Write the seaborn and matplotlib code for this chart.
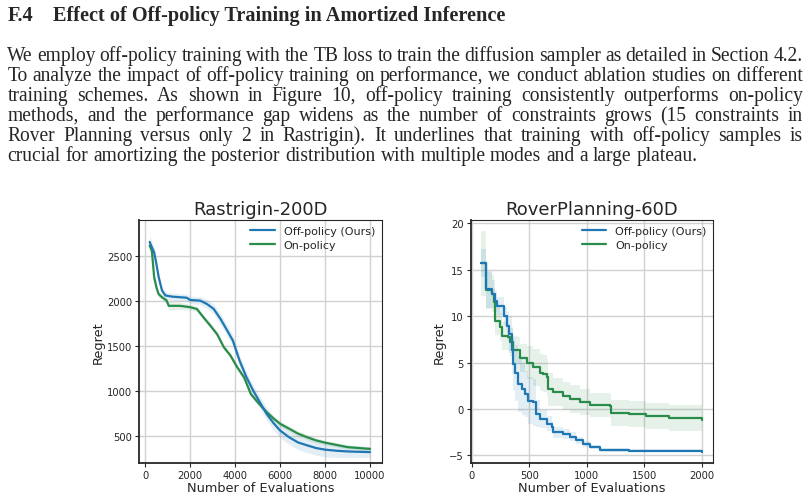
import matplotlib
matplotlib.use("Agg")
import matplotlib.pyplot as plt
import numpy as np
import seaborn as sns

# ---- text of the page ----
heading_num = "F.4"
heading_txt = "Effect of Off-policy Training in Amortized Inference"
body_lines = [
    "We employ off-policy training with the TB loss to train the diffusion sampler as detailed in Section 4.2.",
    "To analyze the impact of off-policy training on performance, we conduct ablation studies on different",
    "training schemes.  As shown in Figure 10, off-policy training consistently outperforms on-policy",
    "methods, and the performance gap widens as the number of constraints grows (15 constraints in",
    "Rover Planning versus only 2 in Rastrigin).  It underlines that training with off-policy samples is",
    "crucial for amortizing the posterior distribution with multiple modes and a large plateau.",
]

# ---- Rastrigin-200D ----
ras_off_x = [200, 300, 400, 500, 600, 750, 900, 1200, 1850, 2000, 2450, 2750, 3050, 3350, 3650, 3900,
             4200, 4500, 4800, 5100, 5400, 5700, 6000, 6400, 6800, 7200, 7600, 8000, 8500, 9000, 9500, 10000]
ras_off_y = [2660, 2600, 2545, 2415, 2270, 2120, 2065, 2052, 2040, 2015, 2008, 1970, 1915, 1805, 1675, 1565,
             1340, 1160, 1010, 880, 750, 650, 565, 490, 432, 400, 370, 352, 340, 332, 328, 325]
ras_off_sd = [70, 60, 50, 50, 50, 40, 40, 40, 40, 40, 45, 50, 55, 60, 60, 60,
              60, 60, 60, 65, 70, 75, 80, 80, 80, 80, 80, 80, 75, 70, 65, 60]

ras_on_x = [200, 300, 400, 500, 600, 750, 950, 1050, 1550, 2000, 2300, 2600, 2900, 3200, 3500, 3800,
            4100, 4400, 4700, 5000, 5400, 5700, 6000, 6400, 6800, 7200, 7600, 8000, 8500, 9000, 9500, 10000]
ras_on_y = [2620, 2560, 2270, 2155, 2080, 2045, 2010, 1950, 1950, 1935, 1915, 1820, 1730, 1635, 1490, 1395,
            1265, 1155, 970, 880, 770, 700, 640, 585, 530, 490, 455, 430, 405, 380, 370, 360]
ras_on_sd = [30, 30, 40, 40, 35, 30, 30, 50, 40, 30, 30, 30, 30, 30, 30, 30,
             30, 30, 30, 30, 30, 30, 30, 30, 30, 30, 30, 25, 25, 25, 25, 25]

# ---- RoverPlanning-60D ----
rov_off_x = [80, 124, 173, 202, 216, 280, 303, 326, 346, 361, 375, 404, 433, 462, 491, 534, 557, 592,
             650, 693, 707, 794, 851, 909, 967, 1025, 1111, 1371, 2000]
rov_off_y = [15.7, 12.9, 12.4, 11.6, 11.1, 10.0, 8.95, 8.05, 6.3, 4.8, 3.9, 2.7, 2.1, 1.6, 0.9, 0.7, -0.5, -1.1,
             -1.6, -2.0, -2.5, -2.7, -3.0, -3.4, -3.8, -4.1, -4.4, -4.5, -4.6]
rov_off_sd = [1.5, 2.0, 1.5, 1.2, 1.0, 1.0, 1.5, 2.0, 2.5, 2.8, 3.0, 3.0, 2.8, 2.5, 2.5, 2.5, 1.5, 1.0,
              0.8, 0.7, 0.6, 0.5, 0.5, 0.4, 0.3, 0.25, 0.2, 0.15, 0.1]

rov_on_x = [80, 124, 173, 195, 205, 245, 259, 317, 332, 361, 404, 418, 476, 534, 592, 620, 650, 664,
            707, 794, 851, 938, 1025, 1198, 1212, 1371, 1515, 1717, 2000]
rov_on_y = [15.7, 12.8, 12.4, 11.5, 9.5, 8.8, 7.9, 7.7, 7.2, 6.4, 6.3, 5.5, 5.0, 4.5, 3.9, 3.8, 3.4, 2.1,
            1.8, 1.4, 1.1, 0.7, 0.4, 0.3, -0.4, -0.6, -0.8, -1.0, -1.15]
rov_on_sd = [3.5, 2.0, 2.0, 1.5, 1.5, 1.5, 1.5, 1.5, 1.5, 1.5, 1.5, 1.5, 1.8, 2.0, 2.0, 2.0, 2.0, 1.8,
             1.5, 1.5, 1.5, 1.4, 1.3, 1.3, 1.4, 1.4, 1.4, 1.4, 1.4]

BLUE = "#1f77b4"
GREEN = "#2a8c4a"

sns.set_theme(style="whitegrid", rc={
    "axes.edgecolor": ".15",
    "grid.color": ".82",
    "xtick.bottom": True,
    "ytick.left": True,
    "xtick.color": ".15",
    "ytick.color": ".15",
})
plt.rcParams["font.family"] = ["DejaVu Sans"]

W, H = 808, 502
fig = plt.figure(figsize=(W / 100, H / 100), dpi=100)


def draw(ax, x_off, y_off, sd_off, x_on, y_on, sd_on, title, steps):
    ds = "steps-post" if steps else "default"
    st = "post" if steps else None
    y_off, sd_off = np.array(y_off), np.array(sd_off)
    y_on, sd_on = np.array(y_on), np.array(sd_on)
    ax.fill_between(x_on, y_on - sd_on, y_on + sd_on, color=GREEN, alpha=0.12, lw=0, step=st)
    ax.fill_between(x_off, y_off - sd_off, y_off + sd_off, color=BLUE, alpha=0.12, lw=0, step=st)
    sns.lineplot(x=x_on, y=y_on, ax=ax, color=GREEN, lw=1.6, drawstyle=ds, label="On-policy", zorder=3)
    sns.lineplot(x=x_off, y=y_off, ax=ax, color=BLUE, lw=1.6, drawstyle=ds, label="Off-policy (Ours)", zorder=4)
    h, l = ax.get_legend_handles_labels()
    ax.legend(h[::-1], l[::-1], loc="upper right", frameon=False, fontsize=8,
              handlelength=2.2, borderaxespad=0.2, labelspacing=0.35)
    ax.set_title(title, fontsize=13, pad=4)
    ax.set_xlabel("Number of Evaluations", fontsize=9.3, labelpad=1)
    ax.set_ylabel("Regret", fontsize=9.3, labelpad=2)
    ax.tick_params(labelsize=7.2, length=3, width=0.8, pad=2)
    for s in ["left", "bottom"]:
        ax.spines[s].set_linewidth(1.3)
    for s in ["top", "right"]:
        ax.spines[s].set_linewidth(0.8)


ax1 = fig.add_axes([139.3 / W, 38.3 / H, 242.4 / W, 243 / H])
draw(ax1, ras_off_x, ras_off_y, ras_off_sd, ras_on_x, ras_on_y, ras_on_sd, "Rastrigin-200D", False)
ax1.set_xlim(-260, 10520)
ax1.set_ylim(207, 2907)
ax1.set_xticks([0, 2000, 4000, 6000, 8000, 10000])
ax1.set_yticks([500, 1000, 1500, 2000, 2500])

ax2 = fig.add_axes([470.7 / W, 38.3 / H, 242.6 / W, 243 / H])
draw(ax2, rov_off_x, rov_off_y, rov_off_sd, rov_on_x, rov_on_y, rov_on_sd, "RoverPlanning-60D", True)
ax2.set_xlim(-10, 2100)
ax2.set_ylim(-5.8, 20.4)
ax2.set_xticks([0, 500, 1000, 1500, 2000])
ax2.set_yticks([-5, 0, 5, 10, 15, 20])

# ---- page text (Times-like), fitted to the measured widths ----
renderer = fig.canvas.get_renderer()
serif = "Liberation Serif"


def width_of(s, size, weight="normal"):
    t = fig.text(0, 0, s, fontsize=size, family=serif, weight=weight)
    w = t.get_window_extent(renderer).width
    t.remove()
    return w


hs = 12 * 448 / width_of(heading_txt, 12, "bold")
fig.text(7.3 / W, 1 - 20.7 / H, heading_num, fontsize=hs, family=serif, weight="bold", va="baseline")
fig.text(52.7 / W, 1 - 20.7 / H, heading_txt, fontsize=hs, family=serif, weight="bold", va="baseline")

x0, x1 = 7.3, 803.0
bs = 1.02 * 12 * (x1 - x0 - 4) / width_of(body_lines[0], 12)
space = width_of("a a", bs) - width_of("aa", bs)
for i, line in enumerate(body_lines):
    yb = 1 - (61 + 20 * i) / H
    words = line.split()
    arts = [fig.text(0, yb, w, fontsize=bs, family=serif, va="baseline") for w in words]
    widths = [a.get_window_extent(renderer).width for a in arts]
    if i < len(body_lines) - 1:
        gap = (x1 - x0 - sum(widths)) / (len(words) - 1)
    else:
        gap = space
    x = x0
    for a, w in zip(arts, widths):
        a.set_x(x / W)
        x += w + gap

fig.savefig("out.png", dpi=100)
